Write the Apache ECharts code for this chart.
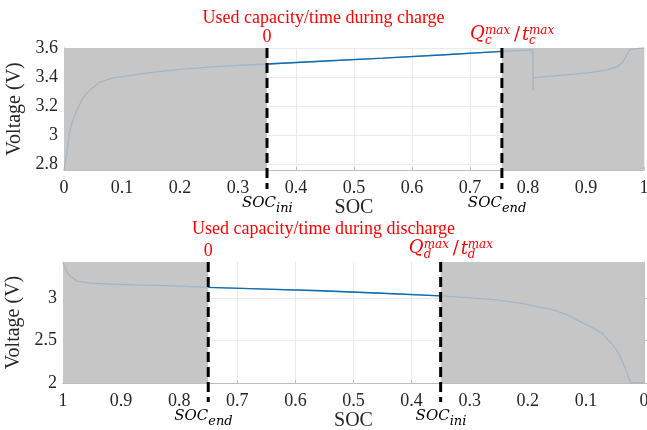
<!DOCTYPE html>
<html>
<head>
<meta charset="utf-8">
<script src="https://cdn.jsdelivr.net/npm/echarts@6/dist/echarts.min.js"></script>
<style>
  html, body { margin: 0; padding: 0; background: #fff; }
  #chart { width: 647px; height: 430px; }
</style>
</head>
<body>
<div id="chart"></div>
<script>
// Charge curve: terminal voltage against state of charge
const chargeSoc = [0, 0.0045, 0.01, 0.016, 0.022, 0.033, 0.045, 0.062, 0.085, 0.12, 0.148, 0.2, 0.25, 0.29,
  0.35, 0.45, 0.55, 0.65, 0.755, 0.78, 0.8085, 0.8088, 0.8092, 0.85, 0.907, 0.935, 0.953, 0.963, 0.97, 0.976, 0.979, 1.0];
const chargeVolt = [2.76, 2.87, 3.03, 3.11, 3.17, 3.26, 3.31, 3.365, 3.395, 3.415, 3.43, 3.453, 3.468, 3.479,
  3.49, 3.51, 3.53, 3.552, 3.577, 3.582, 3.587, 3.31, 3.396, 3.41, 3.43, 3.45, 3.47, 3.50, 3.55, 3.59, 3.6, 3.6];

// Discharge curve (SOC falls from 1 to 0)
const dischargeSoc = [1.0, 0.996, 0.992, 0.987, 0.976, 0.953, 0.92, 0.878, 0.82, 0.75, 0.65, 0.556, 0.45, 0.35,
  0.297, 0.25, 0.211, 0.154, 0.13, 0.108, 0.09, 0.072, 0.058, 0.048, 0.04, 0.032, 0.023, 0];
const dischargeVolt = [3.43, 3.36, 3.30, 3.26, 3.205, 3.18, 3.17, 3.16, 3.15, 3.13, 3.11, 3.09, 3.06, 3.03,
  3.007, 2.98, 2.94, 2.86, 2.80, 2.72, 2.66, 2.59, 2.48, 2.40, 2.30, 2.17, 2.0, 2.0];

// Used window on each curve: [start SOC, end SOC]
const chargeWindow = [0.35, 0.755];
const dischargeWindow = [0.75, 0.35];

// Marker labels at the window boundaries
const chargeBelowSubs = ['ini', 'end'];
const dischargeBelowSubs = ['end', 'ini'];
const chargeAboveTags = ['0', 'Qt'];
const dischargeAboveTags = ['0', 'Qt'];
const chargeSubLetter = 'c';
const dischargeSubLetter = 'd';

// Axis ticks
const socTicks = [0, 0.1, 0.2, 0.3, 0.4, 0.5, 0.6, 0.7, 0.8, 0.9, 1];
const chargeVoltTicks = [2.8, 3, 3.2, 3.4, 3.6];
const dischargeVoltTicks = [2, 2.5, 3];
const chargeVoltRange = [2.76, 3.6];
const dischargeVoltRange = [2, 3.43];

const titles = ['Used capacity/time during charge', 'Used capacity/time during discharge'];

const pairs = (xs, ys) => xs.map((x, i) => [x, ys[i]]);
const inWindow = (data, w) => {
  const lo = Math.min(w[0], w[1]), hi = Math.max(w[0], w[1]);
  return data.filter(d => d[0] >= lo - 1e-9 && d[0] <= hi + 1e-9);
};

const chargeData = pairs(chargeSoc, chargeVolt);
const dischargeData = pairs(dischargeSoc, dischargeVolt);

const SERIF = '"Liberation Serif", "Times New Roman", serif';
const MATH = '"DejaVu Serif", serif';
const RED = '#ff0000';
const INK = '#262626';

function shadeAreas(w) {
  const lo = Math.min(w[0], w[1]), hi = Math.max(w[0], w[1]);
  return [[{ xAxis: 0 }, { xAxis: lo }], [{ xAxis: hi }, { xAxis: 1 }]];
}

function txt(text, x, y, align, font, fill) {
  return {
    type: 'text',
    style: { text: text, x: x, y: y, align: align, verticalAlign: 'middle', font: font, fill: fill }
  };
}

function markerRenderer(belowSubs, aboveTags, subLetter) {
  return function (params, api) {
    const cs = params.coordSys;
    const x = api.coord([api.value(0), api.value(1)])[0];
    const top = cs.y, bottom = cs.y + cs.height;
    const i = params.dataIndex;
    const kids = [{
      type: 'line',
      shape: { x1: x, y1: top, x2: x, y2: bottom + 19 },
      style: { stroke: '#000', lineWidth: 3, lineDash: [10, 5] }
    }];
    const sub = belowSubs[i];
    const j = sub === 'ini' ? 9 : 0;
    kids.push(txt('SOC', x + j, bottom + 33, 'right', 'italic 15px ' + MATH, '#000'));
    kids.push(txt(sub, x + j, bottom + 39, 'left', 'italic 13px ' + MATH, '#000'));
    if (aboveTags[i] === '0') {
      kids.push(txt('0', x, top - 11, 'center', '18px ' + SERIF, RED));
    } else {
      kids.push(txt('Q', x - 32, top - 14, 'left', 'italic 18px ' + MATH, RED));
      kids.push(txt('max', x - 17, top - 17, 'left', 'italic 12px ' + MATH, RED));
      kids.push(txt(subLetter, x - 17, top - 7, 'left', 'italic 12px ' + MATH, RED));
      kids.push(txt('/', x + 12, top - 13, 'left', '18px ' + MATH, RED));
      kids.push(txt('t', x + 20, top - 13, 'left', 'italic 18px ' + MATH, RED));
      kids.push(txt('max', x + 27, top - 17, 'left', 'italic 12px ' + MATH, RED));
      kids.push(txt(subLetter, x + 27, top - 7, 'left', 'italic 12px ' + MATH, RED));
    }
    return { type: 'group', children: kids };
  };
}

function xAxisCfg(gridIndex, inverse) {
  return {
    type: 'value', gridIndex: gridIndex, min: 0, max: 1, inverse: inverse,
    name: 'SOC', nameLocation: 'middle', nameGap: 26,
    nameTextStyle: { fontFamily: SERIF, fontSize: 20, color: INK },
    axisLine: { show: true, lineStyle: { color: '#bdbdbd', width: 1 } },
    axisTick: { show: true, inside: true, length: 3, customValues: socTicks, lineStyle: { color: '#bdbdbd' } },
    axisLabel: { customValues: socTicks, margin: 9, fontFamily: SERIF, fontSize: 18, color: INK,
      formatter: v => String(+v.toFixed(2)) },
    splitLine: { show: true, lineStyle: { color: '#ebebeb', width: 1 } }
  };
}

function yAxisCfg(gridIndex, range, ticks) {
  return {
    type: 'value', gridIndex: gridIndex, min: range[0], max: range[1],
    name: 'Voltage (V)', nameLocation: 'middle', nameGap: 33,
    nameTextStyle: { fontFamily: SERIF, fontSize: 20, color: INK },
    axisLine: { show: true, lineStyle: { color: '#bdbdbd', width: 1 } },
    axisTick: { show: true, inside: true, length: 3, customValues: ticks, lineStyle: { color: '#bdbdbd' } },
    axisLabel: { customValues: ticks, margin: 6, fontFamily: SERIF, fontSize: 18, color: INK,
      formatter: v => String(+v.toFixed(2)) },
    splitLine: { show: true, lineStyle: { color: '#ebebeb', width: 1 } }
  };
}

function curveSeries(idx, data, window) {
  return [
    {
      type: 'line', xAxisIndex: idx, yAxisIndex: idx, data: data,
      showSymbol: false, symbol: 'none', z: 2,
      lineStyle: { color: '#a3b5c4', width: 1.3 },
      markArea: { silent: true, itemStyle: { color: '#c6c6c6' }, data: shadeAreas(window) }
    },
    {
      type: 'line', xAxisIndex: idx, yAxisIndex: idx, data: inWindow(data, window),
      showSymbol: false, symbol: 'none', z: 3,
      lineStyle: { color: '#0b6db4', width: 1.4 }
    }
  ];
}

const chart = echarts.init(document.getElementById('chart'), null, { renderer: 'canvas' });
chart.setOption({
  animation: false,
  backgroundColor: '#ffffff',
  grid: [
    { left: 64, top: 48, width: 580, height: 122, containLabel: false, outerBoundsMode: 'none' },
    { left: 63, top: 262, width: 581, height: 121, containLabel: false, outerBoundsMode: 'none' }
  ],
  xAxis: [xAxisCfg(0, false), xAxisCfg(1, true)],
  yAxis: [yAxisCfg(0, chargeVoltRange, chargeVoltTicks), yAxisCfg(1, dischargeVoltRange, dischargeVoltTicks)],
  graphic: [
    { type: 'text', left: 'center', top: 9, style: { text: titles[0], font: '18px ' + SERIF, fill: RED } },
    { type: 'text', left: 'center', top: 220, style: { text: titles[1], font: '18px ' + SERIF, fill: RED } }
  ],
  series: [
    ...curveSeries(0, chargeData, chargeWindow),
    ...curveSeries(1, dischargeData, dischargeWindow),
    {
      type: 'custom', xAxisIndex: 0, yAxisIndex: 0, z: 5, clip: false, silent: true,
      data: chargeWindow.map(s => [s, chargeVoltRange[1]]),
      renderItem: markerRenderer(chargeBelowSubs, chargeAboveTags, chargeSubLetter)
    },
    {
      type: 'custom', xAxisIndex: 1, yAxisIndex: 1, z: 5, clip: false, silent: true,
      data: dischargeWindow.map(s => [s, dischargeVoltRange[1]]),
      renderItem: markerRenderer(dischargeBelowSubs, dischargeAboveTags, dischargeSubLetter)
    }
  ]
});
</script>
</body>
</html>
